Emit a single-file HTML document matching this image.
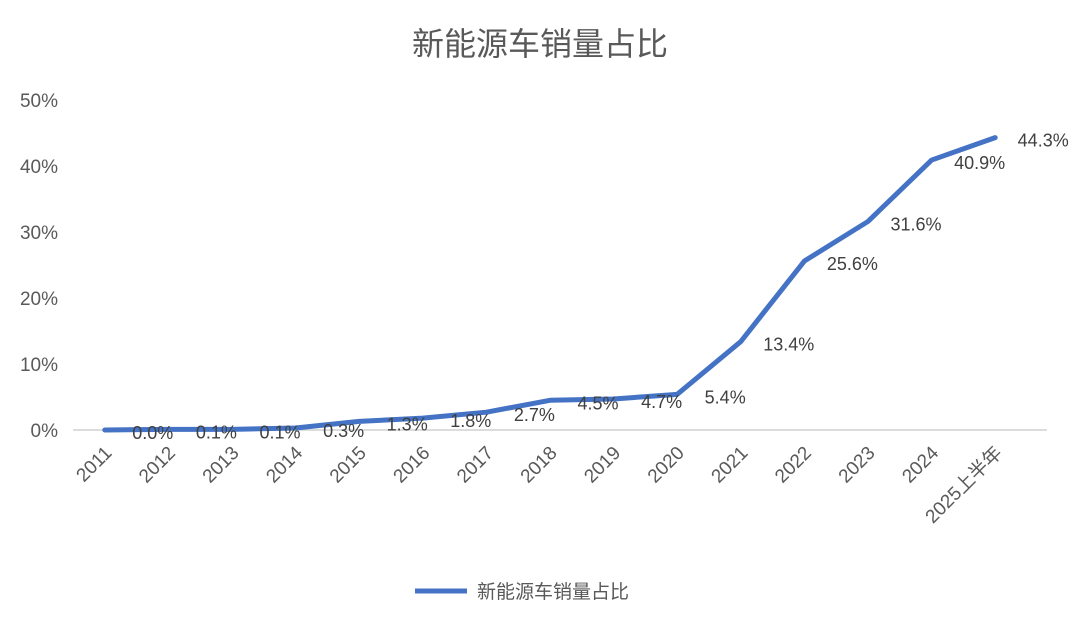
<!DOCTYPE html>
<html><head><meta charset="utf-8">
<style>
body{margin:0;background:#fff;}
svg text{font-family:"Liberation Sans","Noto Sans CJK SC",sans-serif;}
</style></head>
<body>
<svg id="chart" width="1080" height="630" viewBox="0 0 1080 630" xmlns="http://www.w3.org/2000/svg">
<rect width="1080" height="630" fill="#fff"/>
<text x="540" y="55" text-anchor="middle" font-size="32" fill="#595959">新能源车销量占比</text>
<g id="yaxis"></g><g id="xaxis"></g><g id="series"></g><g id="labels"></g>
<g>
<line x1="415" y1="591" x2="467" y2="591" stroke="#4472C4" stroke-width="5"/>
<text x="477" y="598" font-size="19" fill="#595959">新能源车销量占比</text>
</g>
</svg>
<script>
const categories=["2011","2012","2013","2014","2015","2016","2017","2018","2019","2020","2021","2022","2023","2024","2025上半年"];
const values=[0.0,0.1,0.1,0.3,1.3,1.8,2.7,4.5,4.7,5.4,13.4,25.6,31.6,40.9,44.3];
const valueLabels=["0.0%","0.1%","0.1%","0.3%","1.3%","1.8%","2.7%","4.5%","4.7%","5.4%","13.4%","25.6%","31.6%","40.9%","44.3%"];
const yTicks=[0,10,20,30,40,50];
const yTickLabels=["0%","10%","20%","30%","40%","50%"];

const NS="http://www.w3.org/2000/svg";
const x0=73,x1=1027,y0=430,yTop=100;
const band=(x1-x0)/categories.length;
const xs=i=>x0+band*(i+0.5);
const ys=v=>y0-(v/50)*(y0-yTop);
function mk(tag,attrs,parent){const e=document.createElementNS(NS,tag);for(const k in attrs)e.setAttribute(k,attrs[k]);parent.appendChild(e);return e;}

const ya=document.getElementById('yaxis');
yTicks.forEach((t,i)=>{
  const tx=mk('text',{x:58,y:ys(t)+7,'text-anchor':'end','font-size':19,fill:'#595959'},ya);
  tx.textContent=yTickLabels[i];
  
  
});
const base=mk('line',{x1:x0,y1:y0,x2:x1+20,y2:y0,stroke:'#d0d0d0','stroke-width':1.5},ya);



const xa=document.getElementById('xaxis');
categories.forEach((c,i)=>{
  const x=xs(i)+8,y=y0+24;
  const tx=mk('text',{x:x,y:y,'text-anchor':'end','font-size':19,fill:'#595959',transform:`rotate(-45 ${x} ${y})`},xa);
  tx.textContent=c;
  
  
});

const sg=document.getElementById('series');
const pts=values.map((v,i)=>xs(i)+','+ys(v)).join(' ');
const pl=mk('polyline',{points:pts,fill:'none',stroke:'#4472C4','stroke-width':5,'stroke-linejoin':'round','stroke-linecap':'round'},sg);



const lg=document.getElementById('labels');
values.forEach((v,i)=>{
  const tx=mk('text',{x:xs(i)+48,y:ys(v)+9,'text-anchor':'middle','font-size':18,fill:'#404040'},lg);
  tx.textContent=valueLabels[i];
  
  
});
</script>
</body></html>
